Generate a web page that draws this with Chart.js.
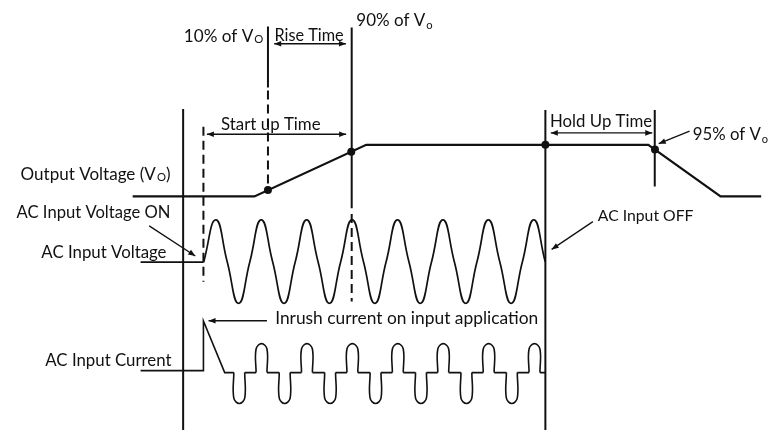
<!DOCTYPE html>
<html>
<head>
<meta charset="utf-8">
<script src="https://cdn.jsdelivr.net/npm/chart.js@4/dist/chart.umd.min.js"></script>
<style>
html,body{margin:0;padding:0;background:#fff;overflow:hidden}
canvas{display:block}
</style>
</head>
<body>
<canvas id="c" width="779" height="434" style="width:779px;height:434px"></canvas>
<script>
// ---------- DATA (time axis and level axis share the picture's units) ----------
// Output voltage (Vo) trace
const outputVoltageX = [130, 253, 366, 651, 724, 765];
const outputVoltageY = [196, 196, 143.5, 143.5, 196, 196];

// AC input voltage: flat before switch-on, then the sine (zero crossings, peaks, troughs)
const acVoltageOffX = [138, 201.7];
const acVoltageOffY = [263, 263];
const acVoltageX = [201.7, 214.0, 225.5, 237.0, 248.4, 259.9, 271.4, 282.9, 294.3, 305.8, 317.3,
                    328.8, 340.2, 351.7, 363.2, 374.7, 386.1, 397.6, 409.1, 420.6, 432.0, 443.5,
                    455.0, 466.5, 477.9, 489.4, 500.9, 512.4, 523.8, 535.3, 546.8];
const acVoltageY = [263, 220, 262.5, 305, 262.5, 220, 262.5, 305, 262.5, 220, 262.5,
                    305, 262.5, 220, 262.5, 305, 262.5, 220, 262.5, 305, 262.5, 220,
                    262.5, 305, 262.5, 220, 262.5, 305, 262.5, 220, 262.5];

// AC input current: flat, inrush spike, then pulses at each voltage peak / trough
const inrushX = [138, 201.5, 201.5, 223];
const inrushY = [373.5, 373.5, 323, 375.5];
const currentBaseline = [375.5];
const currentPulseUpX = [260.2, 306.1, 352.0, 397.9, 443.8, 489.7, 536.0];
const currentPulseUpY = [346, 346, 346, 346, 346, 346, 346];
const currentPulseDownX = [237.7, 283.6, 329.5, 375.4, 421.3, 467.2, 513.1];
const currentPulseDownY = [407, 407, 407, 407, 407, 407, 407];
const currentEndX = [547];

// Event marker lines (time position, extent)
const solidMarkerX = [181, 266.7, 351.3, 547, 657.5];
const solidMarkerTop = [107, 23, 24, 108, 108];
const solidMarkerBottom = [434, 85, 208, 434, 186];
const dashedMarkerX = [201.5, 266.7, 351.3];
const dashedMarkerTop = [125, 88, 214];
const dashedMarkerBottom = [283, 190, 303];

// Threshold dots on the output voltage
const dotX = [266.7, 350.9, 547, 657.7];
const dotY = [189.6, 150.6, 143.5, 148.3];

// Text labels
const labelText = ['10% of V', 'Rise Time', '90% of V', 'Start up Time', 'Hold Up Time', '95% of V',
                   'Output Voltage (V', 'AC Input Voltage ON', 'AC Input Voltage', 'AC Input OFF',
                   'Inrush current on input application', 'AC Input Current'];
const labelSub  = ['O', '', 'o', '', '', 'o', 'O', '', '', '', '', ''];
const labelTail = ['', '', '', '', '', '', ')', '', '', '', '', ''];

// Arrows (start -> end)
const arrowX1 = [273, 205, 552.5, 692.7, 146.7, 595, 265.7];
const arrowY1 = [40.5, 132.7, 131.3, 129.5, 226, 221.7, 322.7];
const arrowX2 = [345.5, 345.7, 655, 661.5, 193.3, 553.3, 206.7];
const arrowY2 = [40.5, 132.7, 131.3, 142.3, 256.7, 250, 322.7];
const arrowBoth = [true, true, true, false, false, false, false];

// ---------- LAYOUT (positions of labels: left, baseline, right) ----------
const labelLeft     = [181.7, 273.3, 356, 219.3, 551.7, 696, 16.7, 12.7, 37.7, 600, 274, 41.7];
const labelBaseline = [38.3, 37.3, 22.7, 128.3, 125, 139, 179, 218.3, 258.3, 220.7, 326, 368.3];
const labelRight    = [262, 343.3, 433, 320, 655, 772, 168.3, 168.3, 164.3, 696.7, 540, 169.3];

const INK = '#111';
const FONT = 'Lato, "Open Sans", sans-serif';

function pts(xs, ys) { return xs.map((x, i) => ({ x: x, y: ys[i] })); }

// current trace built from the read pulse positions
const pulseHalf = 5.5;
const pulses = currentPulseUpX.map((c, i) => ({ c: c, lvl: currentPulseUpY[i] }))
  .concat(currentPulseDownX.map((c, i) => ({ c: c, lvl: currentPulseDownY[i] })))
  .sort((a, b) => a.c - b.c);
const base = currentBaseline[0];
const currentFlat = pts(inrushX, inrushY);
const currentPulses = [];
pulses.forEach((p) => {
  currentFlat.push({ x: p.c - pulseHalf, y: base });
  currentFlat.push({ x: p.c - pulseHalf, y: null });
  currentFlat.push({ x: p.c + pulseHalf, y: base });
  const dir = p.lvl < base ? 1 : -1;
  currentPulses.push({ x: p.c - pulseHalf, y: base });
  currentPulses.push({ x: p.c - pulseHalf, y: p.lvl + dir * pulseHalf });
  currentPulses.push({ x: p.c, y: p.lvl });
  currentPulses.push({ x: p.c + pulseHalf, y: p.lvl + dir * pulseHalf });
  currentPulses.push({ x: p.c + pulseHalf, y: base });
  currentPulses.push({ x: p.c + pulseHalf, y: null });
});
currentFlat.push({ x: currentEndX[0], y: base });

const datasets = [];
function lineDs(data, opts) {
  return Object.assign({ data: data, showLine: true, borderColor: INK, borderWidth: 2,
    pointRadius: 0, tension: 0, spanGaps: false, fill: false }, opts || {});
}
datasets.push(lineDs(pts(outputVoltageX, outputVoltageY), { borderWidth: 2.2 }));
datasets.push(lineDs(pts(acVoltageOffX, acVoltageOffY), { borderWidth: 1.6 }));
datasets.push(lineDs(pts(acVoltageX, acVoltageY), { borderWidth: 1.7, tension: 0.5 }));
datasets.push(lineDs(currentFlat, { borderWidth: 1.6 }));
datasets.push(lineDs(currentPulses, { borderWidth: 1.6, tension: 0.4 }));
solidMarkerX.forEach((x, i) => {
  datasets.push(lineDs([{ x: x, y: solidMarkerTop[i] }, { x: x, y: solidMarkerBottom[i] }], { borderWidth: 2 }));
});
dashedMarkerX.forEach((x, i) => {
  datasets.push(lineDs([{ x: x, y: dashedMarkerTop[i] }, { x: x, y: dashedMarkerBottom[i] }], { borderWidth: 2, borderDash: [9, 5] }));
});
datasets.push({ data: pts(dotX, dotY), showLine: false, pointRadius: 4, pointBackgroundColor: INK,
  pointBorderColor: INK, pointBorderWidth: 0 });

const annotate = {
  id: 'annotate',
  afterDatasetsDraw(chart) {
    const ctx = chart.ctx;
    const xs = chart.scales.x, ys = chart.scales.y;
    const px = (v) => xs.getPixelForValue(v);
    const py = (v) => ys.getPixelForValue(v);
    ctx.save();
    ctx.strokeStyle = INK;
    ctx.fillStyle = INK;
    ctx.lineWidth = 1.3;
    const head = (tx, ty, fx, fy) => {
      const a = Math.atan2(ty - fy, tx - fx);
      const len = 7, half = 2.8;
      ctx.beginPath();
      ctx.moveTo(tx, ty);
      ctx.lineTo(tx - len * Math.cos(a) + half * Math.sin(a), ty - len * Math.sin(a) - half * Math.cos(a));
      ctx.lineTo(tx - len * Math.cos(a) - half * Math.sin(a), ty - len * Math.sin(a) + half * Math.cos(a));
      ctx.closePath();
      ctx.fill();
    };
    arrowX1.forEach((x1, i) => {
      const a = px(x1), b = py(arrowY1[i]), c = px(arrowX2[i]), d = py(arrowY2[i]);
      ctx.beginPath();
      ctx.moveTo(a, b);
      ctx.lineTo(c, d);
      ctx.stroke();
      head(c, d, a, b);
      if (arrowBoth[i]) head(a, b, c, d);
    });

    ctx.textBaseline = 'alphabetic';
    ctx.textAlign = 'left';
    labelText.forEach((t, i) => {
      const sub = labelSub[i], tail = labelTail[i];
      const baseSize = 17, subF = 0.66;
      ctx.font = baseSize + 'px ' + FONT;
      let w = ctx.measureText(t).width + ctx.measureText(tail).width;
      ctx.font = (baseSize * subF) + 'px ' + FONT;
      w += sub ? ctx.measureText(sub).width + 1 : 0;
      const target = px(labelRight[i]) - px(labelLeft[i]);
      const size = Math.max(13, Math.min(20, baseSize * target / w));
      const x0 = px(labelLeft[i]), y0 = py(labelBaseline[i]);
      ctx.font = size + 'px ' + FONT;
      ctx.fillText(t, x0, y0);
      let cx = x0 + ctx.measureText(t).width;
      if (sub) {
        ctx.font = (size * subF) + 'px ' + FONT;
        const shift = sub === 'o' ? 2.5 : 1.5;
        ctx.fillText(sub, cx + 1, y0 + shift);
        cx += ctx.measureText(sub).width + 1;
      }
      if (tail) {
        ctx.font = size + 'px ' + FONT;
        ctx.fillText(tail, cx, y0);
      }
    });
    ctx.restore();
  }
};

new Chart(document.getElementById('c'), {
  type: 'scatter',
  data: { datasets: datasets },
  options: {
    responsive: false,
    animation: false,
    devicePixelRatio: 1,
    layout: { padding: 0 },
    events: [],
    scales: {
      x: { type: 'linear', min: 0, max: 779, display: false },
      y: { type: 'linear', min: 0, max: 434, reverse: true, display: false }
    },
    plugins: { legend: { display: false }, tooltip: { enabled: false }, title: { display: false } }
  },
  plugins: [annotate]
});
</script>
</body>
</html>
